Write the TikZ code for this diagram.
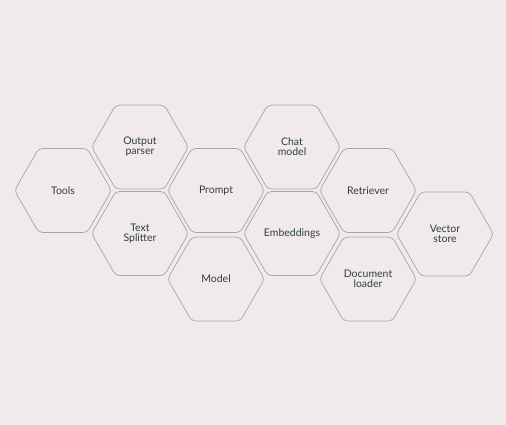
\documentclass[tikz,border=0pt]{standalone}
\usepackage{fontspec}
\setmainfont{Lato}
\usetikzlibrary{shapes.geometric}
\definecolor{bg}{HTML}{F0EBEA}
\definecolor{hexline}{HTML}{A5A6A4}
\definecolor{hextext}{HTML}{2F3E3C}
\begin{document}
\begin{tikzpicture}[x=1pt,y=-1pt,
  hexcell/.style={regular polygon, regular polygon sides=6, minimum size=97pt,
    inner sep=0pt, draw=hexline, line width=0.7pt, rounded corners=4pt,
    text=hextext, font=\fontsize{10.5}{10}\selectfont, align=center}]
\fill[bg] (0,0) rectangle (506,425);
\useasboundingbox (0,0) rectangle (506,425);
\node[hexcell] (tools) at (63,190.5) {Tools};
\node[hexcell] (outp) at (140,147) {Output\\parser};
\node[hexcell] (split) at (140,233.5) {Text\\Splitter};
\node[hexcell] (prompt) at (216,190.5) {Prompt};
\node[hexcell] (model) at (216,279) {Model};
\node[hexcell] (chat) at (292,147) {Chat\\model};
\node[hexcell] (emb) at (292,233.5) {Embeddings};
\node[hexcell] (retr) at (368,190.5) {Retriever};
\node[hexcell] (doc) at (368,279) {Document\\loader};
\node[hexcell] (vec) at (445,234) {Vector\\store};
\end{tikzpicture}
\end{document}
